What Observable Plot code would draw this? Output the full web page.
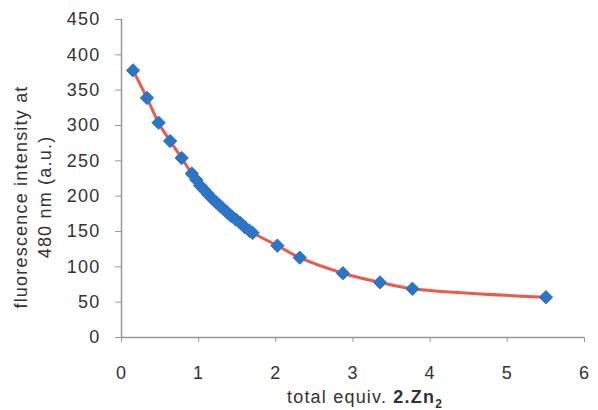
<!DOCTYPE html>
<html>
<head>
<meta charset="utf-8">
<script src="https://cdn.jsdelivr.net/npm/d3@7"></script>
<script src="https://cdn.jsdelivr.net/npm/@observablehq/plot@0.6"></script>
<style>
  html, body { margin: 0; padding: 0; background: #fff; }
  #chart { width: 598px; height: 410px; }
  svg { font-family: "Liberation Sans", Arial, sans-serif; }
</style>
</head>
<body>
<div id="chart"></div>
<script>
const equiv = [0.15, 0.33, 0.48, 0.63, 0.78, 0.91, 0.97, 1.02, 1.07, 1.12, 1.17, 1.22, 1.27, 1.32, 1.37, 1.42, 1.48, 1.54, 1.60, 1.66, 1.70, 2.02, 2.31, 2.87, 3.35, 3.77, 5.50];
const intensity = [378, 339, 304, 278, 254, 232, 223, 215, 209, 203, 197, 192, 187, 182, 177, 172, 167, 162, 156, 151, 148, 130, 113, 91, 78, 69, 57];
const xTicks = [0, 1, 2, 3, 4, 5, 6];
const yTicks = [0, 50, 100, 150, 200, 250, 300, 350, 400, 450];
const yTitleLines = ["fluorescence intensity at", "480 nm (a.u.)"];

const data = equiv.map((x, i) => ({x, y: intensity[i]}));

const chart = Plot.plot({
  width: 598,
  height: 410,
  marginLeft: 121,
  marginRight: 14,
  marginTop: 19,
  marginBottom: 73,
  style: {fontSize: "18px", fontFamily: "Liberation Sans, Arial, sans-serif", color: "#333", background: "#fff", letterSpacing: "1.2px"},
  x: {domain: [0, 6], ticks: xTicks, tickFormat: "d", label: null},
  y: {domain: [0, 450], ticks: yTicks, tickFormat: "d", label: null},
  marks: [
    Plot.ruleY([0], {stroke: "#999", strokeWidth: 1.5}),
    Plot.ruleX([0], {stroke: "#999", strokeWidth: 1.5}),
    Plot.axisX({ticks: xTicks, tickFormat: "d", tickSize: 5, tickPadding: 24, stroke: "#999", fill: "#333", fontSize: 18, label: null}),
    Plot.axisY({ticks: yTicks, tickFormat: "d", tickSize: 6, tickPadding: 15, stroke: "#999", fill: "#333", fontSize: 18, label: null}),
    Plot.line(data, {x: "x", y: "y", stroke: "#ec5a4b", strokeWidth: 3, curve: "catmull-rom"}),
    Plot.dot(data, {x: "x", y: "y", symbol: "diamond2", r: 6, fill: "#2b74c6", stroke: "#2b74c6", strokeWidth: 1})
  ]
});

const svg = d3.select(chart);
// x axis title with bold part and subscript
const xt = svg.append("text")
  .attr("x", 365).attr("y", 403)
  .attr("text-anchor", "middle")
  .attr("font-size", 18)
  .attr("letter-spacing", "1.2px")
  .attr("fill", "#333");
xt.append("tspan").text("total equiv. ");
xt.append("tspan").attr("font-weight", "bold").text("2.Zn");
xt.append("tspan").attr("font-weight", "bold").attr("font-size", 12).attr("dy", 5).text("2");

// y axis title, two rotated lines
const yt = svg.append("text")
  .attr("transform", "translate(27,197) rotate(-90)")
  .attr("text-anchor", "middle")
  .attr("font-size", 18)
  .attr("letter-spacing", "1.2px")
  .attr("fill", "#333");
yTitleLines.forEach((t, i) => {
  yt.append("tspan").attr("x", 0).attr("dy", i === 0 ? 0 : 24).text(t);
});

document.getElementById("chart").appendChild(chart);
</script>
</body>
</html>
